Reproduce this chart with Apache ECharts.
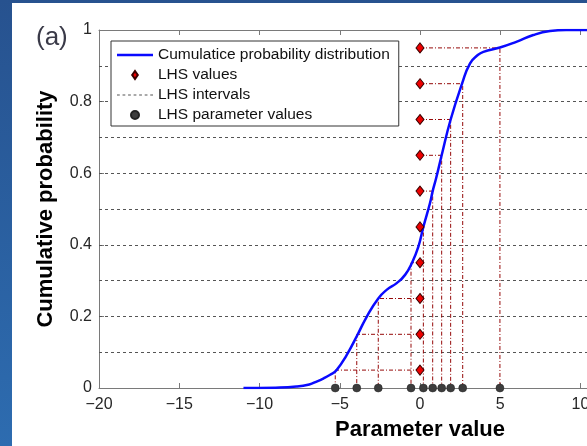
<!DOCTYPE html>
<html><head><meta charset="utf-8">
<script src="https://cdn.jsdelivr.net/npm/echarts@6/dist/echarts.min.js"></script>
<style>
html,body{margin:0;padding:0;width:587px;height:446px;overflow:hidden;background:linear-gradient(180deg,#27528f,#2d6cb0);}
#paper{position:absolute;left:12px;top:3px;width:575px;height:443px;background:#fff;}
#chart{position:absolute;left:0;top:0;width:587px;height:446px;}
</style></head><body>
<div id="paper"></div><div id="chart"></div>
<script>
// Cumulative probability distribution
const cdfX = [-11.0, -9.0, -7.7, -6.9, -6.44, -6.0, -5.6, -5.2, -4.57, -3.9, -3.32, -2.6, -2.08, -1.45, -0.93, -0.52, -0.1, 0.21, 0.62, 0.79, 1.0, 1.35, 1.91, 2.62, 3.12, 3.6, 3.95, 4.98, 6.0, 7.06, 8.1, 9.1, 20];
const cdfY = [0, 0.001, 0.004, 0.01, 0.018, 0.027, 0.037, 0.05, 0.092, 0.148, 0.199, 0.25, 0.274, 0.293, 0.316, 0.348, 0.395, 0.45, 0.516, 0.55, 0.585, 0.65, 0.75, 0.85, 0.907, 0.93, 0.939, 0.951, 0.967, 0.986, 0.997, 1.0, 1.0];
// LHS sample probabilities (centres of intervals) and parameter values
const lhsProb = [0.05, 0.15, 0.25, 0.35, 0.45, 0.55, 0.65, 0.75, 0.85, 0.95];
const lhsParam = [-5.28, -3.94, -2.6, -0.56, 0.21, 0.79, 1.35, 1.91, 2.66, 4.98];
const lhsAxisValue = 0;
// LHS interval boundaries
const intervalBounds = [0.1, 0.2, 0.3, 0.4, 0.5, 0.6, 0.7, 0.8, 0.9];
const legendNames = ['Cumulatice probability distribution', 'LHS values', 'LHS intervals', 'LHS parameter values'];

const chart = echarts.init(document.getElementById('chart'));
const minus = v => String(v).replace('-', '\u2212');
const FONT = 'Liberation Sans, Arial, sans-serif';
const tickFont = {fontFamily: FONT, fontSize: 16, color: '#262626'};
const axisGrey = '#7a7a7a';
let dashPath = 'path://';
for (let i = 0; i < 7; i++) dashPath += 'M' + (i * 5.2) + ',0h2.6v1h-2.6z';

chart.setOption({
  animation: false,
  backgroundColor: 'transparent',
  grid: {left: 99, top: 30, bottom: 58, right: -154, containLabel: false, outerBoundsMode: 'none'},
  title: {text: '(a)', left: 31, top: 20, textStyle: {fontFamily: FONT, fontSize: 26, fontWeight: 'normal', color: '#3a3a48'}},
  legend: {
    orient: 'vertical', left: 111, top: 41, z: 20,
    itemWidth: 36, itemHeight: 8, itemGap: 4,
    padding: [6, 9, 3, 6],
    borderColor: '#333', borderWidth: 1, backgroundColor: '#fff',
    textStyle: {fontFamily: FONT, fontSize: 15.5, color: '#111', lineHeight: 14},
    data: [
      {name: legendNames[0], icon: 'path://M0,0H36V2.5H0Z'},
      {name: legendNames[1], icon: 'path://M0,-5L3.5,0L0,5L-3.5,0Z'},
      {name: legendNames[2], icon: dashPath},
      {name: legendNames[3], icon: 'circle'}
    ],
    selectedMode: false
  },
  xAxis: [{
    type: 'value', min: -20, max: 20, interval: 5, position: 'bottom',
    name: 'Parameter value', nameLocation: 'middle', nameGap: 31,
    nameTextStyle: {fontFamily: FONT, fontSize: 22, fontWeight: 'bold', color: '#000'},
    axisLine: {onZero: false, lineStyle: {color: axisGrey, width: 1}},
    axisTick: {inside: true, length: 5, lineStyle: {color: axisGrey}},
    axisLabel: Object.assign({margin: 9, formatter: minus}, tickFont),
    splitLine: {show: false}
  }, {
    type: 'value', min: -20, max: 20, interval: 5, position: 'top',
    axisLine: {onZero: false, lineStyle: {color: axisGrey, width: 1}},
    axisTick: {inside: true, length: 5, lineStyle: {color: axisGrey}},
    axisLabel: {show: false}, splitLine: {show: false}
  }],
  yAxis: {
    type: 'value', min: 0, max: 1, interval: 0.2, position: 'left',
    name: 'Cumulative probability', nameLocation: 'middle', nameGap: 42,
    nameTextStyle: {fontFamily: FONT, fontSize: 22, fontWeight: 'bold', color: '#000'},
    axisLine: {show: true, onZero: false, lineStyle: {color: axisGrey, width: 1}},
    axisTick: {show: true, inside: true, length: 5, lineStyle: {color: axisGrey}},
    axisLabel: Object.assign({margin: 7}, tickFont),
    splitLine: {show: false}
  },
  series: [
    {
      name: legendNames[2], type: 'line', data: [], symbol: 'none', z: 1,
      itemStyle: {color: '#555'},
      lineStyle: {color: '#555', width: 1, type: [3, 3]},
      markLine: {
        silent: true, symbol: ['none', 'none'], label: {show: false}, z: 1,
        lineStyle: {color: '#555', width: 1, type: [3, 3]},
        data: intervalBounds.map(v => ({yAxis: v}))
      }
    },
    {
      name: 'connectors', type: 'lines', coordinateSystem: 'cartesian2d', polyline: true, z: 2,
      lineStyle: {color: '#960a0a', width: 1, type: [4, 2, 1, 2], opacity: 1},
      data: lhsProb.map((p, i) => ({coords: [[lhsAxisValue, p], [lhsParam[i], p], [lhsParam[i], 0]]}))
    },
    {
      name: legendNames[0], type: 'line', symbol: 'none', smooth: true, z: 3,
      lineStyle: {color: '#0a0aff', width: 2.5},
      itemStyle: {color: '#0a0aff'},
      data: cdfX.map((x, i) => [x, cdfY[i]])
    },
    {
      name: legendNames[1], type: 'scatter', symbol: 'diamond', symbolSize: [8, 10], z: 4,
      itemStyle: {color: '#ee0000', borderColor: '#3a0000', borderWidth: 1, opacity: 1},
      data: lhsProb.map(p => [lhsAxisValue, p])
    },
    {
      name: legendNames[3], type: 'scatter', symbol: 'circle', symbolSize: 8, z: 5,
      itemStyle: {color: '#3d3d3d', borderColor: '#222', borderWidth: 0.5, opacity: 1},
      data: lhsParam.map(x => [x, 0])
    }
  ]
});
</script>
</body></html>
